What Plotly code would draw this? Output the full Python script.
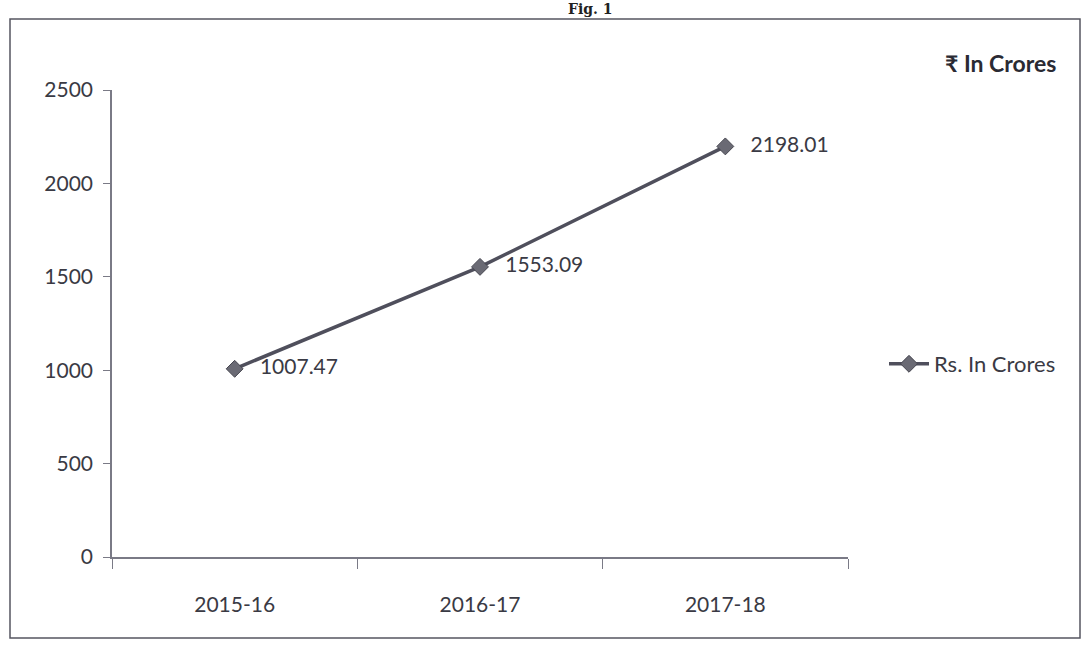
import plotly.graph_objects as go

categories = ["2015-16", "2016-17", "2017-18"]
values = [1007.47, 1553.09, 2198.01]
labels = ["1007.47", "1553.09", "2198.01"]
y_ticks = [0, 500, 1000, 1500, 2000, 2500]

W, H = 1091, 648
# plot area in screen px: x 112..848, y 90..557
L, T = 112, 90
R = W - 848
B = H - 557
pw, ph = W - L - R, H - T - B

def px_x(x):
    return (x - L) / pw

def px_y(y):
    return (H - B - y) / ph

font_fam = "Lato, 'Open Sans', sans-serif"
txt_col = "#3a3a44"

fig = go.Figure()
fig.add_trace(go.Scatter(
    x=categories, y=values, mode="lines+markers+text",
    name="Rs. In Crores",
    line=dict(color="#4f4f5c", width=3.5),
    marker=dict(symbol="diamond", size=13, color="#6a6a74",
                line=dict(color="#45454f", width=1)),
    text=["   " + t for t in labels], textposition="middle right",
    textfont=dict(family=font_fam, size=21, color=txt_col),
    cliponaxis=False,
))

fig.update_layout(
    width=W, height=H,
    margin=dict(l=L, r=R, t=T, b=B),
    paper_bgcolor="white", plot_bgcolor="white",
    font=dict(family=font_fam, size=20, color=txt_col),
    showlegend=True,
    legend=dict(x=px_x(884), y=px_y(364), xanchor="left", yanchor="middle",
                font=dict(family=font_fam, size=22, color=txt_col),
                bgcolor="rgba(0,0,0,0)", itemwidth=40),
    xaxis=dict(
        type="category", showgrid=False, showline=True, linecolor="#7a7a86",
        linewidth=1.5, ticks="outside", tickson="boundaries", ticklen=10,
        tickcolor="#7a7a86", tickfont=dict(family=font_fam, size=21, color=txt_col),
        ticklabelstandoff=28, range=[-0.5, 2.5], zeroline=False,
    ),
    yaxis=dict(
        range=[0, 2500], tickvals=y_ticks, showgrid=False, showline=True,
        linecolor="#7a7a86", linewidth=1.5, ticks="outside", ticklen=7,
        tickcolor="#7a7a86", tickfont=dict(family=font_fam, size=21, color=txt_col),
        ticklabelstandoff=6, zeroline=False,
    ),
    shapes=[dict(type="rect", xref="paper", yref="paper",
                 x0=px_x(10), x1=px_x(1080), y0=px_y(638), y1=px_y(19),
                 line=dict(color="#555560", width=1.5))],
    annotations=[
        dict(text="<b>₹ In Crores</b>", xref="paper", yref="paper",
             x=px_x(1058), y=px_y(63), xanchor="right", yanchor="middle",
             showarrow=False, font=dict(family=font_fam, size=23, color="#2a2a33")),
        dict(text="<b>Fig. 1</b>", xref="paper", yref="paper",
             x=px_x(590), y=px_y(0), xanchor="center", yanchor="top",
             borderpad=0,
             showarrow=False, font=dict(family="DejaVu Serif, serif", size=14, color="#222")),
    ],
)

fig.write_html("out.html", config={"displayModeBar": False},
               post_script="document.body.style.margin='0';")
